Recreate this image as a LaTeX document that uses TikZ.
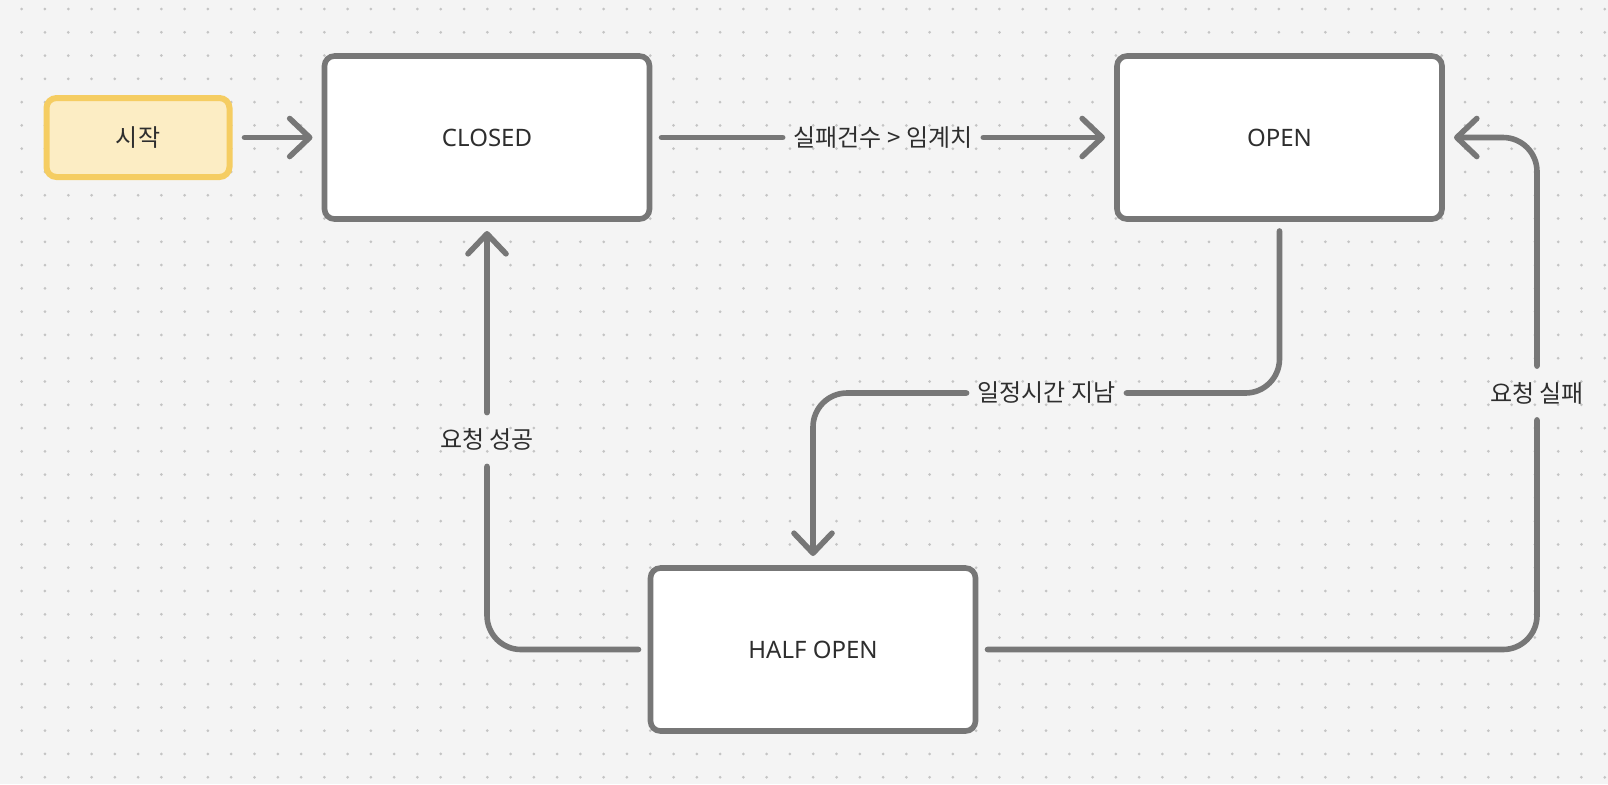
\documentclass[tikz,border=0pt]{standalone}
\usepackage{fontspec}
\setmainfont{Noto Sans}
\newfontfamily\krfont{Noto Sans CJK KR}
\usetikzlibrary{arrows.meta}

\definecolor{bgc}{HTML}{F4F4F4}
\definecolor{dotc}{HTML}{C4C4C4}
\definecolor{linec}{HTML}{777777}
\definecolor{textc}{HTML}{2E2E2E}
\definecolor{startfill}{HTML}{FCEDC4}
\definecolor{startline}{HTML}{F5CD62}

\begin{document}
\begin{tikzpicture}[x=0.5pt, y=-0.5pt,
    state/.style={draw=linec, line width=2.8pt, fill=white, rounded corners=5pt,
        minimum width=162.5pt, minimum height=81.5pt, outer sep=6pt,
        text=textc, font=\fontsize{12}{14}\selectfont},
    startbox/.style={draw=startline, line width=3pt, fill=startfill, rounded corners=5pt,
        minimum width=91.5pt, minimum height=39.5pt, outer sep=7.5pt,
        text=textc, font=\krfont\fontsize{12}{14}\selectfont},
    lbl/.style={text=textc, font=\krfont\fontsize{12}{14}\selectfont,
        inner xsep=5.5pt, inner ysep=8pt, outer sep=0pt},
    conn/.style={draw=linec, line width=2.8pt, line cap=round, rounded corners=17pt},
    tip/.style={-{Straight Barb[length=10pt,width=19pt,line cap=round,line join=round]}}]

    % Background with dot grid
    \useasboundingbox (0,0) rectangle (1608,784);
    \fill[bgc] (0,0) rectangle (1608,784);
    \foreach \i in {0,...,68} {
        \foreach \j in {0,...,33} {
            \fill[dotc] (21.7+23.28*\i, 9+23.28*\j) circle (0.75pt);
        }
    }

    % States
    \node[startbox] (start) at (138,137.5) {시작};
    \node[state] (closed) at (487,137.5) {CLOSED};
    \node[state] (open) at (1279.5,137.5) {OPEN};
    \node[state] (halfopen) at (813,649.5) {HALF OPEN};

    % Transition labels
    \node[lbl] (overlimit) at (883,137.5) {실패건수 > 임계치};
    \node[lbl] (elapsed) at (1046.5,393) {일정시간 지남};
    \node[lbl] (reqok) at (487,439.5) {요청 성공};
    \node[lbl] (reqfail) at (1537,393) {요청 실패};

    % Transitions
    \draw[conn, tip] (start.east) -- (closed.west);
    \draw[conn] (closed.east) -- (overlimit.west);
    \draw[conn, tip] (overlimit.east) -- (open.west);
    \draw[conn] (open.south) |- (elapsed.east);
    \draw[conn, tip] (elapsed.west) -| (halfopen.north);
    \draw[conn] (halfopen.west) -| (reqok.south);
    \draw[conn, tip] (reqok.north) -- (closed.south);
    \draw[conn] (halfopen.east) -| (reqfail.south);
    \draw[conn, tip] (reqfail.north) |- (open.east);
\end{tikzpicture}
\end{document}
